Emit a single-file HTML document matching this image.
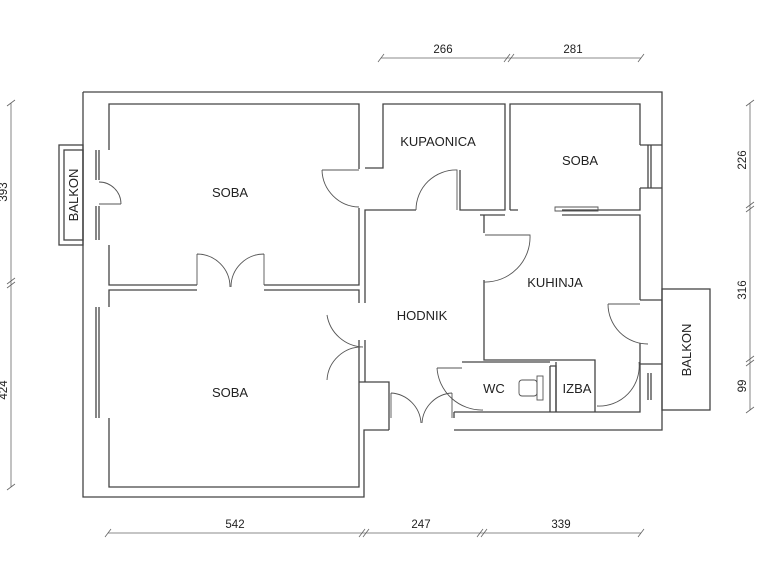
<!DOCTYPE html>
<html><head><meta charset="utf-8"><style>
html,body{margin:0;padding:0;background:#fff;}
svg{display:block;font-family:"Liberation Sans",sans-serif;}
</style></head><body>
<svg width="758" height="564" viewBox="0 0 758 564" xmlns="http://www.w3.org/2000/svg">
<g fill="none" stroke="#444" stroke-width="1.3">
<path d="M83,92 H662 V430 H454 M389,430 H364 V497 H83 V92"/>
<path d="M109,150 V104 H359 V169 M359,208 V285 H264 M197,285 H109 V245"/>
<path d="M109,307 V290 H197 M264,290 H359 V303 M359,340 V382 H389 V430 M359,382 V487 H109 V418"/>
<path d="M365,168 H383 V104 H505 V210 H460 V170 M416,210 H365 V303 M365,340 V382"/>
<path d="M510,210 V104 H640 V145 M640,188 V210 H562 M510,210 H518"/>
<path d="M640,145 H662 M640,188 H662"/>
<path d="M480,215 H484 V233 M484,280 V360 H595 V412 M484,215 H505 M562,215 H640 V300 M640,343 V364 H662 M640,300 H662"/>
<path d="M462,362 H550 M556,362 V412 H597 M454,412 H640 V364 M454,418 V412"/>
<path d="M550,366 H556 V412 M550,366 V412"/>
<rect x="59" y="145" width="24" height="100"/>
<rect x="64" y="150" width="19" height="90"/>
<rect x="662" y="289" width="48" height="121"/>
<path d="M96,150 V180 M99,150 V180 M96,206 V240 M99,206 V240 M96,307 V418 M99,307 V418 M648,145 V188 M651,145 V188 M648,373 V400 M651,373 V400"/>
</g>
<g fill="none" stroke="#555" stroke-width="0.9">
<path d="M99,182 A22,22 0 0 1 121,204 M99,204 H121"/>
<path d="M322,170 A38,38 0 0 0 359,207 M359,170 H322"/>
<path d="M197,254 V285 M197,254 A33,33 0 0 1 230,287 M264,254 V285 M264,254 A33,33 0 0 0 231,287"/>
<path d="M416,210 A40,40 0 0 1 457,170 V210"/>
<path d="M485,235 H530 A45,45 0 0 1 484,282"/>
<path d="M327,315 A38,38 0 0 0 363,347 M327,380 A35,35 0 0 1 363,347"/>
<path d="M391,393 A32,32 0 0 1 421,423 M452,393 A32,32 0 0 0 422,423 M391,393 V418 M452,393 V418"/>
<path d="M437,368 A45,45 0 0 0 483,410 M437,368 H462"/>
<path d="M639,362 A40,40 0 0 1 597,406"/>
<path d="M608,304 A40,40 0 0 0 648,344 M608,304 H640"/>
<path d="M555,207 H598 V211 H555 Z"/>
<rect x="519" y="380" width="18" height="16" rx="3"/>
<rect x="537" y="376" width="6" height="24"/>
</g>
<g stroke="#666" stroke-width="0.8" fill="none">
<path d="M381,58 H641 M378,62 L384,54 M504,62 L510,54 M508,62 L514,54 M638,62 L644,54"/>
<path d="M108,533 H641 M105,537 L111,529 M359,537 L365,529 M363,537 L369,529 M477,537 L483,529 M481,537 L487,529 M638,537 L644,529"/>
<path d="M11,103 V487 M7,106 L15,100 M7,284 L15,278 M7,288 L15,282 M7,490 L15,484"/>
<path d="M750,103 V410 M746,106 L754,100 M746,208 L754,202 M746,212 L754,206 M746,362 L754,356 M746,366 L754,360 M746,413 L754,407"/>
</g>
<g fill="#222" font-size="13">
<text x="230" y="197" text-anchor="middle">SOBA</text>
<text x="230" y="397" text-anchor="middle">SOBA</text>
<text x="438" y="146" text-anchor="middle">KUPAONICA</text>
<text x="580" y="165" text-anchor="middle">SOBA</text>
<text x="555" y="287" text-anchor="middle">KUHINJA</text>
<text x="422" y="320" text-anchor="middle">HODNIK</text>
<text x="494" y="393" text-anchor="middle">WC</text>
<text x="577" y="393" text-anchor="middle">IZBA</text>
<text transform="translate(78,195) rotate(-90)" text-anchor="middle">BALKON</text>
<text transform="translate(691,350) rotate(-90)" text-anchor="middle">BALKON</text>
</g>
<g fill="#222" font-size="11.5">
<text x="443" y="53" text-anchor="middle">266</text>
<text x="573" y="53" text-anchor="middle">281</text>
<text x="235" y="528" text-anchor="middle">542</text>
<text x="421" y="528" text-anchor="middle">247</text>
<text x="561" y="528" text-anchor="middle">339</text>
<text transform="translate(7,192) rotate(-90)" text-anchor="middle">393</text>
<text transform="translate(7,390) rotate(-90)" text-anchor="middle">424</text>
<text transform="translate(746,160) rotate(-90)" text-anchor="middle">226</text>
<text transform="translate(746,290) rotate(-90)" text-anchor="middle">316</text>
<text transform="translate(746,386) rotate(-90)" text-anchor="middle">99</text>
</g>
</svg>
</body></html>
